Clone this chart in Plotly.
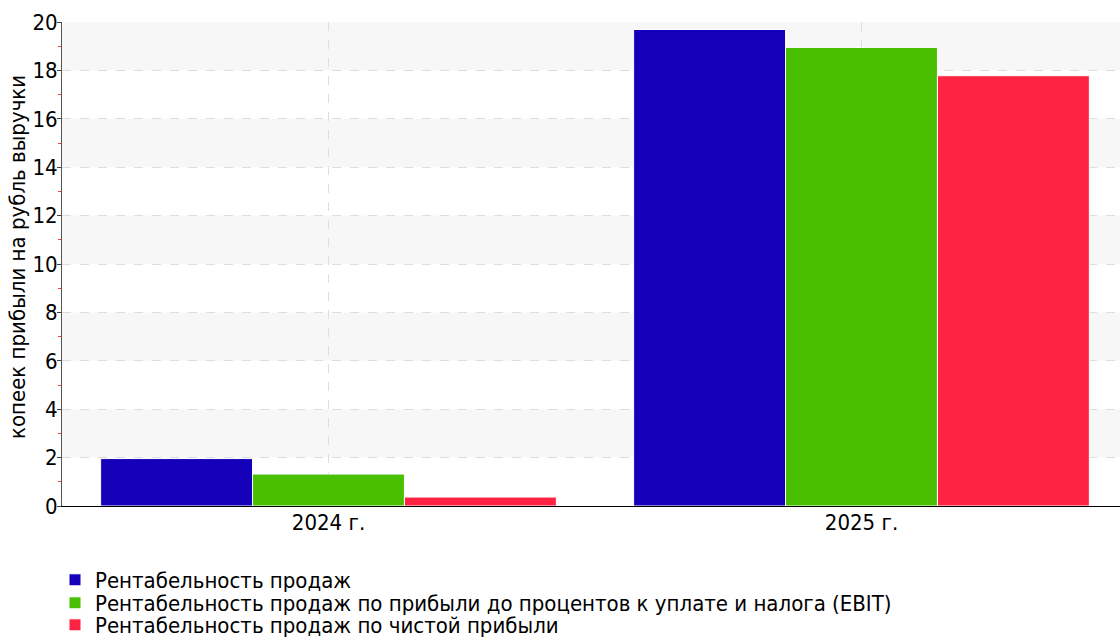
import plotly.graph_objects as go

categories = ["2024 г.", "2025 г."]
series_names = [
    "Рентабельность продаж",
    "Рентабельность продаж по прибыли до процентов к уплате и налога (EBIT)",
    "Рентабельность продаж по чистой прибыли",
]
sales_margin = [1.96, 19.69]
ebit_margin = [1.32, 18.95]
net_margin = [0.37, 17.78]
colors = ["#1300b8", "#48c000", "#fe2342"]
y_ticks = [0, 2, 4, 6, 8, 10, 12, 14, 16, 18, 20]
y_title = "копеек прибыли на рубль выручки"

FONT = "DejaVu Sans Condensed, DejaVu Sans"
FS = 22
W, H = 1120, 637
L, T, B = 62, 22, 131
PW, PH = W - L, H - T - B

fig = go.Figure()
legend_ids = ["legend", "legend2", "legend3"]
for name, vals, col, lg in zip(series_names, [sales_margin, ebit_margin, net_margin], colors, legend_ids):
    fig.add_trace(go.Bar(
        x=categories, y=vals, name=name, legend=lg,
        marker=dict(color=col, line=dict(color="white", width=1)),
    ))

shapes = []
for i in range(1, len(y_ticks) - 1, 2):
    shapes.append(dict(type="rect", xref="paper", yref="y", x0=0, x1=1,
                       y0=y_ticks[i], y1=y_ticks[i + 1],
                       fillcolor="#f7f7f7", line=dict(width=0), layer="below"))

legend_rows_px = [580, 603, 625]
legends = {}
for lg, row in zip(legend_ids, legend_rows_px):
    legends[lg] = dict(
        xref="container", yref="container", x=55 / W, y=1 - row / H,
        xanchor="left", yanchor="middle", orientation="v",
        font=dict(family=FONT, size=FS, color="black"),
        itemwidth=30, bgcolor="rgba(0,0,0,0)", borderwidth=0,
    )

fig.update_layout(
    width=W, height=H,
    margin=dict(l=L, r=0, t=T, b=B, autoexpand=False),
    paper_bgcolor="white", plot_bgcolor="white",
    barmode="group", bargap=0.145, bargroupgap=0,
    font=dict(family=FONT, size=FS, color="black"),
    shapes=shapes,
    showlegend=True,
    **legends,
    annotations=[dict(text=y_title, xref="paper", yref="paper",
                      x=(17 - L) / PW, y=(T + PH - 257) / PH,
                      xanchor="center", yanchor="middle", textangle=-90, showarrow=False,
                      font=dict(family=FONT, size=FS, color="black"))],
    xaxis=dict(range=[-0.5, 1.485], showgrid=True, gridcolor="#dedede", griddash="dash",
               gridwidth=1, showline=True, linecolor="black", linewidth=1,
               ticks="", tickfont=dict(size=FS), zeroline=False, ticklabelstandoff=-3),
    yaxis=dict(range=[0, 20], tickvals=y_ticks, showgrid=True, gridcolor="#dedede",
               griddash="dash", gridwidth=1, showline=True, linecolor="#555555", linewidth=1,
               ticks="outside", ticklen=4, tickcolor="#444444", tickfont=dict(size=FS),
               zeroline=False, ticklabelstandoff=-5,
               minor=dict(dtick=1, ticks="outside", ticklen=3, tickcolor="#ff4040", showgrid=False)),
)

fig.write_html("out.html", config={"displayModeBar": False},
               post_script="document.body.style.margin='0px';")
